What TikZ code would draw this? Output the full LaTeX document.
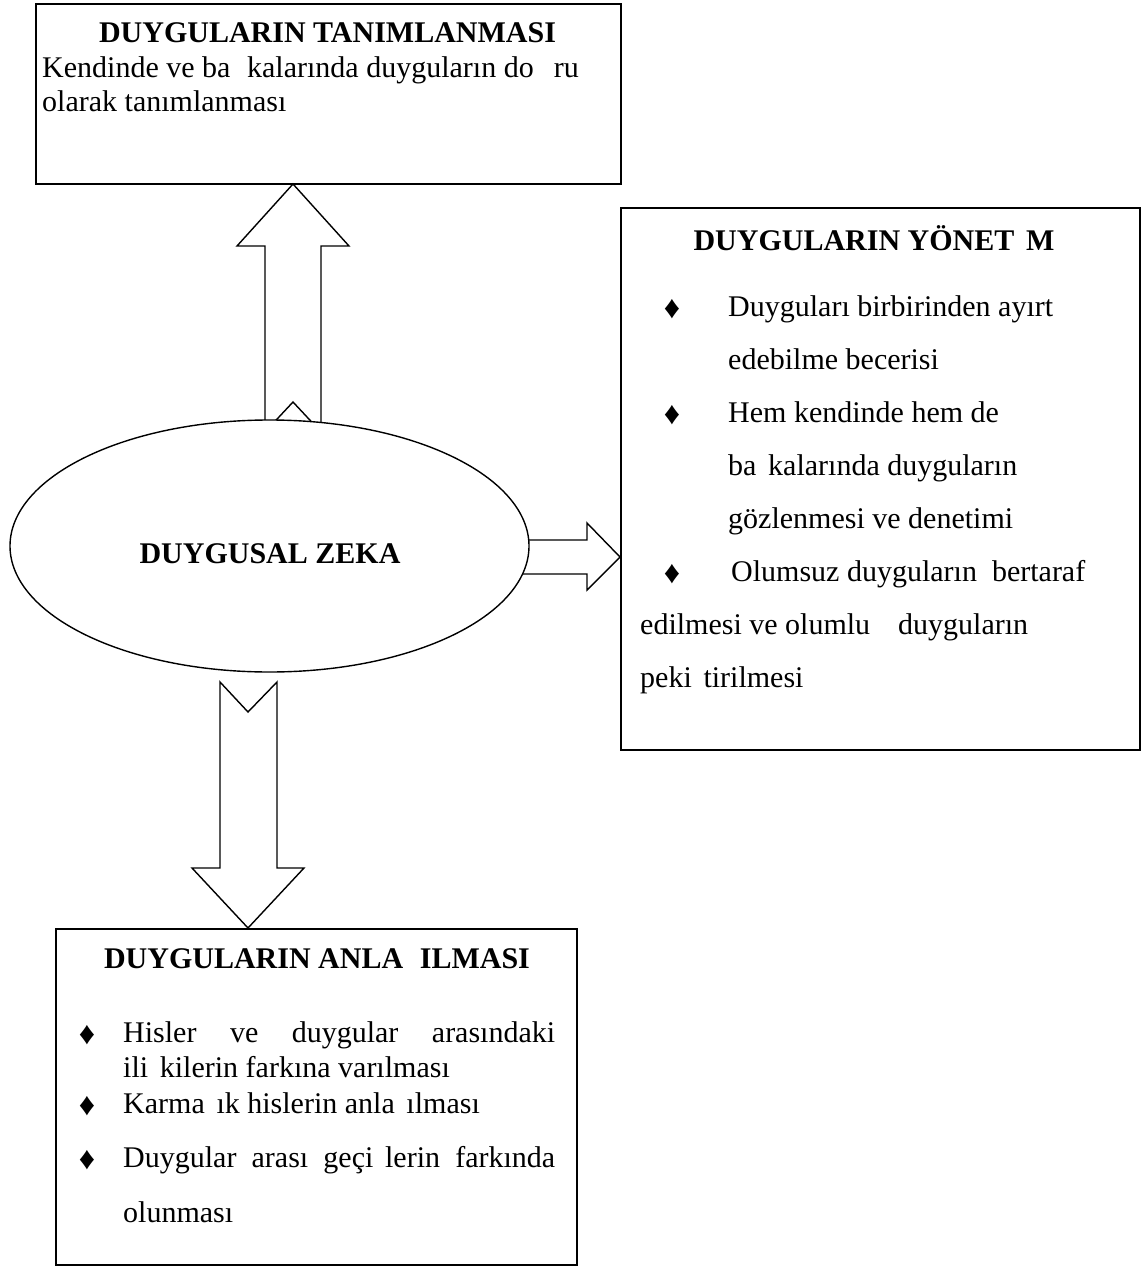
\documentclass[tikz,border=0pt]{standalone}
\usepackage{fontspec}
\setmainfont{Liberation Serif}
\usetikzlibrary{shapes.geometric}
\begin{document}
\begin{tikzpicture}[x=1pt,y=-1pt,
  frame/.style={draw=black, line width=1.6pt, rectangle, inner sep=0pt, anchor=north west},
  blockarrow/.style={draw=black, fill=white, line width=1.4pt, line join=miter},
  txt/.style={inner sep=0pt, anchor=base west, font=\fontsize{30}{36}\selectfont},
  head/.style={inner sep=0pt, anchor=base, font=\fontsize{30}{36}\selectfont\bfseries},
  bul/.style={inner sep=0pt, anchor=base, yshift=-2pt, font=\fontsize{32}{36}\selectfont}]
\useasboundingbox[fill=white] (0,0) rectangle (1144,1268);

% frames
\node[frame, minimum width=585pt, minimum height=180pt] (tbox) at (35,3) {};
\node[frame, minimum width=519pt, minimum height=542pt] (rbox) at (620,207) {};
\node[frame, minimum width=521pt, minimum height=336pt] (bbox) at (55,928) {};

% block arrows
\draw[blockarrow] (293,184) -- (349,246) -- (321,246) -- (321,432) -- (293,402)
  -- (265,432) -- (265,246) -- (237,246) -- cycle;
\draw[blockarrow] (470,540) -- (587,540) -- (587,523) -- (620,557) -- (587,590)
  -- (587,574) -- (470,574) -- cycle;
\draw[blockarrow] (220,682) -- (248,712) -- (277,682) -- (277,868) -- (304,868)
  -- (248,928) -- (192,868) -- (220,868) -- cycle;

% central ellipse
\node[ellipse, draw=black, fill=white, line width=1.4pt, inner sep=0pt,
      minimum width=519pt, minimum height=252pt] (ez) at (269.5,546) {};
\node[head] (eztext) at (270,563) {DUYGUSAL ZEKA};

% top box
\node[head] (ttitle) at (327.5,43) {DUYGULARIN TANIMLANMASI};
\node[txt] (t1) at (42,78) {Kendinde ve ba\phantom{ş}\hspace{5pt}kalarında duyguların do\phantom{ğ}\hspace{5pt}ru};
\node[txt] (t2) at (42,112) {olarak tanımlanması};

% right box
\node[head] (rtitle) at (874,250) {DUYGULARIN YÖNET\phantom{İ}M};
\node[bul] (rb1) at (672,316) {♦};
\node[bul] (rb2) at (672,422) {♦};
\node[bul] (rb3) at (672,581) {♦};
\node[txt] (r1) at (728,316) {Duyguları birbirinden ayırt};
\node[txt] (r2) at (728,369) {edebilme becerisi};
\node[txt] (r3) at (728,422) {Hem kendinde hem de};
\node[txt] (r4) at (728,475) {ba\phantom{ş}kalarında duyguların};
\node[txt] (r5) at (728,528) {gözlenmesi ve denetimi};
\node[txt] (r6) at (731,581) {Olumsuz duyguların\hspace{15pt}bertaraf};
\node[txt] (r7) at (640,634) {edilmesi ve olumlu\hspace{28pt}duyguların};
\node[txt] (r8) at (640,687) {peki\phantom{ş}tirilmesi};

% bottom box
\node[head] (btitle) at (317,968) {DUYGULARIN ANLA\phantom{Ş}ILMASI};
\node[bul] (bb1) at (87,1042) {♦};
\node[bul] (bb2) at (87,1113) {♦};
\node[bul] (bb3) at (87,1167) {♦};
\node[txt] (b1) at (123,1042) {\makebox[432pt][s]{Hisler ve duygular arasındaki}};
\node[txt] (b2) at (123,1077) {ili\phantom{ş}kilerin farkına varılması};
\node[txt] (b3) at (123,1113) {Karma\phantom{ş}ık hislerin anla\phantom{ş}ılması};
\node[txt] (b4) at (123,1167) {\makebox[432pt][s]{Duygular arası geçi\phantom{ş}lerin farkında}};
\node[txt] (b5) at (123,1222) {olunması};
\end{tikzpicture}
\end{document}
